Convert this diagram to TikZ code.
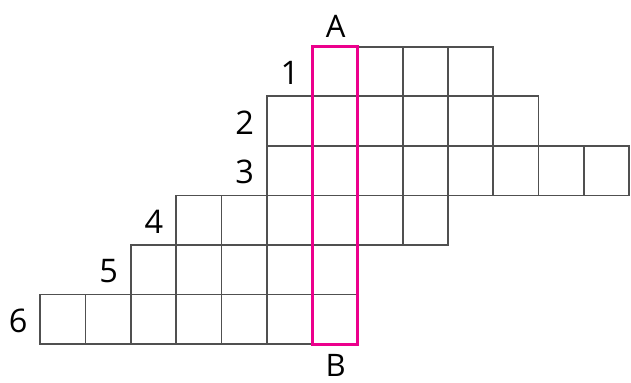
\documentclass[tikz,border=0pt]{standalone}
\usepackage{fontspec}
\setmainfont{Open Sans}
\definecolor{keypink}{RGB}{236,0,140}
\definecolor{gridgray}{RGB}{80,80,80}
\tikzset{
  cell/.style={draw=gridgray, line width=1.7pt},
  keycol/.style={draw=keypink, line width=3pt},
  num/.style={anchor=east, inner sep=0pt, font=\fontsize{32.5}{38}\selectfont},
  letter/.style={inner sep=0pt, font=\fontsize{31}{36}\selectfont}
}
\begin{document}
\begin{tikzpicture}[x=45.3pt, y=-49.55pt]
    \useasboundingbox (-0.8896,-0.9425) rectangle (13.04,6.767);
    % rows: number / first column / last column
    \foreach \r/\a/\b in {1/6/9, 2/5/10, 3/5/12, 4/3/8, 5/2/6, 6/0/6} {
      \foreach \c in {\a,...,\b}
        \draw[cell] (\c,\r-1) rectangle ++(1,1);
      \node[num] (n\r) at (\a-0.28,\r-0.465) {\r};
    }
    % the marked column
    \draw[keycol] (6,0) rectangle (7,6);
    \node[letter] (A) at (6.52,-0.42) {A};
    \node[letter] (B) at (6.52,6.43) {B};
  \end{tikzpicture}
\end{document}
